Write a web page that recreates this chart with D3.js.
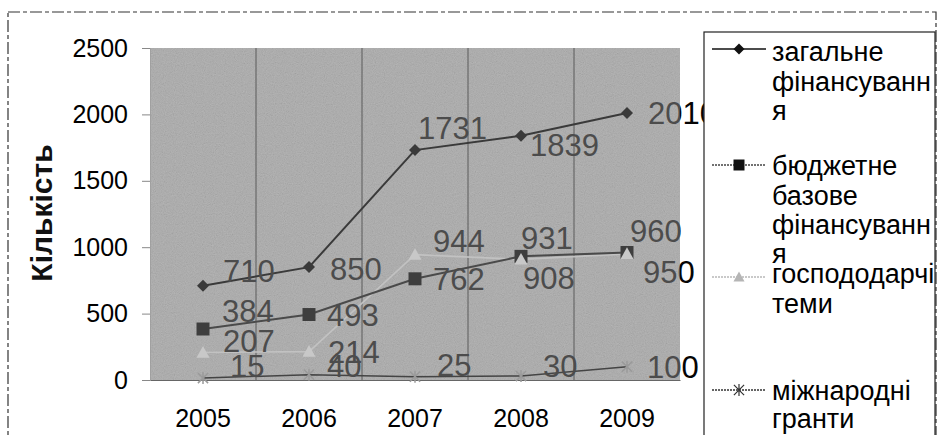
<!DOCTYPE html>
<html>
<head>
<meta charset="utf-8">
<script src="https://cdn.jsdelivr.net/npm/d3@7"></script>
<style>
  html, body { margin: 0; padding: 0; background: #fff; }
  svg { display: block; font-family: "Liberation Sans", Arial, sans-serif; }
</style>
</head>
<body>
<svg id="chart" width="937" height="435"></svg>
<script>
// ---------- data ----------
const years = ['2005', '2006', '2007', '2008', '2009'];
const totalFunding   = [710, 850, 1731, 1839, 2010];
const budgetFunding  = [384, 493, 762, 931, 960];
const contractThemes = [207, 214, 944, 908, 950];
const intlGrants     = [15, 40, 25, 30, 100];
const yTicks = [0, 500, 1000, 1500, 2000, 2500];
const yTitle = 'Кількість';
const legendLines = [
  ['загальне', 'фінансуванн', 'я'],
  ['бюджетне', 'базове', 'фінансуванн', 'я'],
  ['господодарчі', 'теми'],
  ['міжнародні', 'гранти']
];

// ---------- layout / style ----------
const W = 937, H = 435;
const plot = { left: 150, right: 680, top: 48, bottom: 380 };
// data-label offsets relative to each point (layout only)
const labelOffsets = [
  [[20, -15], [21, 2], [3, -22], [9, 9], [21, 0]],
  [[19, -18], [18, 0], [18, 0], [0, -19], [3, -22]],
  [[20, -12], [19, 0], [18, -14], [2, 18], [16, 18]],
  [[27, -12], [18, -9], [22, -12], [22, -10], [20, 0]]
];
const seriesStyle = [
  { line: '#3a3a3a', width: 2,   marker: 'diamond', fill: '#3a3a3a', size: 12 },
  { line: '#4a4a4a', width: 2,   marker: 'square',  fill: '#3e3e3e', size: 13 },
  { line: '#c2c2c2', width: 1.6, marker: 'triangle', fill: '#c8c8c8', size: 13 },
  { line: '#444444', width: 1.5, marker: 'star',    fill: '#9a9a9a', size: 12 }
];
const legendLayout = [
  { markerY: 49,  baselines: [61, 91, 120] },
  { markerY: 165, baselines: [175, 205, 234, 263] },
  { markerY: 277, baselines: [283, 313] },
  { markerY: 390, baselines: [400, 428] }
];

const seriesValues = [totalFunding, budgetFunding, contractThemes, intlGrants];

const svg = d3.select('#chart');
const defs = svg.append('defs');

const noise = defs.append('filter').attr('id', 'noise')
  .attr('x', 0).attr('y', 0).attr('width', '100%').attr('height', '100%');
noise.append('feTurbulence').attr('type', 'fractalNoise')
  .attr('baseFrequency', 0.9).attr('numOctaves', 2).attr('seed', 4);
noise.append('feColorMatrix').attr('type', 'matrix')
  .attr('values', '0.33 0.33 0.33 0 0  0.33 0.33 0.33 0 0  0.33 0.33 0.33 0 0  0 0 0 0 1');

defs.append('clipPath').attr('id', 'clipIn').append('rect')
  .attr('x', plot.left).attr('y', plot.top)
  .attr('width', plot.right - plot.left).attr('height', plot.bottom - plot.top);
defs.append('clipPath').attr('id', 'clipOut').append('rect')
  .attr('x', plot.right).attr('y', 0)
  .attr('width', W - plot.right).attr('height', H);

// outer dashed frame
svg.append('rect').attr('x', 8).attr('y', 12).attr('width', W - 9).attr('height', H)
  .attr('fill', 'none').attr('stroke', '#333').attr('stroke-width', 1.2)
  .attr('stroke-dasharray', '12,3,4,3');

// scales
const x = d3.scaleBand().domain(years).range([plot.left, plot.right]);
const cx = d => x(d) + x.bandwidth() / 2;
const y = d3.scaleLinear().domain([0, 2500]).range([plot.bottom, plot.top]);

// plot background
svg.append('rect').attr('x', plot.left).attr('y', plot.top)
  .attr('width', plot.right - plot.left).attr('height', plot.bottom - plot.top)
  .attr('fill', '#a9a9a9');
svg.append('rect').attr('x', plot.left).attr('y', plot.top)
  .attr('width', plot.right - plot.left).attr('height', plot.bottom - plot.top)
  .attr('filter', 'url(#noise)').attr('opacity', 0.22);

// vertical category gridlines
svg.append('g').selectAll('line').data(years.slice(1)).join('line')
  .attr('x1', d => x(d)).attr('x2', d => x(d))
  .attr('y1', plot.top).attr('y2', plot.bottom)
  .attr('stroke', '#5a5a5a').attr('stroke-width', 1);

// y axis
const yAxis = svg.append('g').attr('transform', `translate(${plot.left},0)`)
  .call(d3.axisLeft(y).tickValues(yTicks).tickSize(8).tickPadding(14).tickFormat(d3.format('d')));
yAxis.select('.domain').attr('stroke', '#999').attr('stroke-width', 0.6);
yAxis.selectAll('.tick line').attr('stroke', '#888');
yAxis.selectAll('text').attr('font-size', 25).attr('fill', '#000')
  .attr('font-family', '"Liberation Sans", Arial, sans-serif');

// x axis
const xAxis = svg.append('g').attr('transform', `translate(0,${plot.bottom})`)
  .call(d3.axisBottom(x).tickSize(0).tickPadding(29));
xAxis.select('.domain').attr('stroke', '#666').attr('stroke-width', 1);
xAxis.selectAll('text').attr('font-size', 25).attr('fill', '#000')
  .attr('font-family', '"Liberation Sans", Arial, sans-serif');

// y title
svg.append('text').attr('transform', 'translate(52,213) rotate(-90)')
  .attr('text-anchor', 'middle').attr('font-size', 30).attr('font-weight', 'bold')
  .attr('fill', '#111').text(yTitle);

// marker shapes
function markerPath(type, s) {
  const r = s / 2;
  if (type === 'diamond') return `M0,${-r}L${r},0L0,${r}L${-r},0Z`;
  if (type === 'square') return `M${-r},${-r}H${r}V${r}H${-r}Z`;
  if (type === 'triangle') return `M0,${-r}L${r},${r * 0.8}L${-r},${r * 0.8}Z`;
  const q = r * 0.85;
  return `M${-q},${-q}L${q},${q}M${-q},${q}L${q},${-q}M0,${-r}L0,${r}`;
}

const lineGen = d3.line().x(d => cx(d.year)).y(d => y(d.value));
const drawOrder = [2, 3, 1, 0];
drawOrder.forEach(i => {
  const st = seriesStyle[i];
  const pts = years.map((yr, j) => ({ year: yr, value: seriesValues[i][j] }));
  svg.append('path').datum(pts).attr('d', lineGen)
    .attr('fill', 'none').attr('stroke', st.line).attr('stroke-width', st.width);
});
// markers: squares/diamonds first, then triangles, then stars
[1, 0, 2, 3].forEach(i => {
  const st = seriesStyle[i];
  const pts = years.map((yr, j) => ({ year: yr, value: seriesValues[i][j] }));
  svg.append('g').selectAll('path').data(pts).join('path')
    .attr('transform', d => `translate(${cx(d.year)},${y(d.value)})`)
    .attr('d', markerPath(st.marker, st.size))
    .attr('fill', st.marker === 'star' ? 'none' : st.fill)
    .attr('stroke', st.marker === 'star' ? st.fill : 'none')
    .attr('stroke-width', 1.5);
});

// data labels
const labels = [];
seriesValues.forEach((vals, i) => {
  vals.forEach((v, j) => {
    labels.push({ x: cx(years[j]) + labelOffsets[i][j][0], y: y(v) + labelOffsets[i][j][1], text: v });
  });
});
function drawLabels(clip, color) {
  svg.append('g').attr('clip-path', `url(#${clip})`)
    .selectAll('text').data(labels).join('text')
    .attr('x', d => d.x).attr('y', d => d.y).attr('dy', '0.36em')
    .attr('font-size', 31).attr('fill', color).text(d => d.text);
}
drawLabels('clipIn', '#4c4c4c');
drawLabels('clipOut', '#050505');

// legend
const lg = svg.append('g');
lg.append('rect').attr('x', 704).attr('y', 32).attr('width', 231).attr('height', H)
  .attr('fill', '#fff').attr('stroke', '#222').attr('stroke-width', 1.2);
const legendLineStyle = [
  { stroke: '#111', dash: null },
  { stroke: '#444', dash: '2,1' },
  { stroke: '#b8b8b8', dash: '2,1' },
  { stroke: '#333', dash: '2,1' }
];
const legendMarkerFill = ['#111', '#111', '#b5b5b5', '#333'];
legendLines.forEach((lines, i) => {
  const L = legendLayout[i];
  lg.append('line').attr('x1', 712).attr('x2', 766).attr('y1', L.markerY).attr('y2', L.markerY)
    .attr('stroke', legendLineStyle[i].stroke).attr('stroke-width', 1.6)
    .attr('stroke-dasharray', legendLineStyle[i].dash);
  const type = seriesStyle[i].marker;
  lg.append('path').attr('transform', `translate(739,${L.markerY})`)
    .attr('d', markerPath(type, type === 'star' ? 12 : 11))
    .attr('fill', type === 'star' ? 'none' : legendMarkerFill[i])
    .attr('stroke', type === 'star' ? legendMarkerFill[i] : 'none')
    .attr('stroke-width', 1.2);
  lines.forEach((t, k) => {
    lg.append('text').attr('x', 772).attr('y', L.baselines[k])
      .attr('font-size', 27).attr('fill', '#000').text(t);
  });
});
</script>
</body>
</html>
